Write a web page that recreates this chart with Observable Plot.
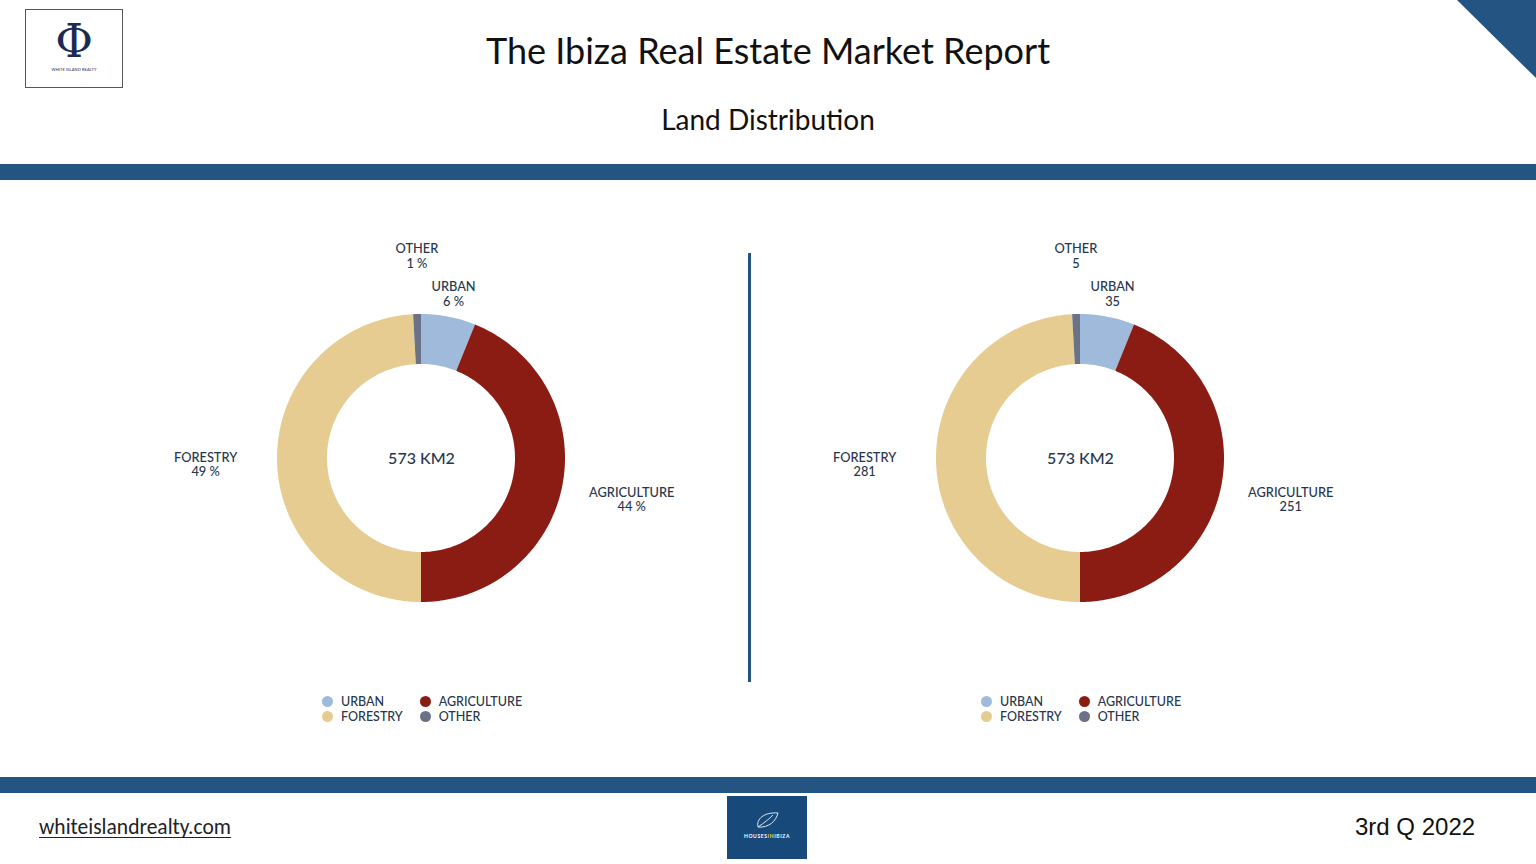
<!DOCTYPE html>
<html>
<head>
<meta charset="utf-8">
<script src="https://cdn.jsdelivr.net/npm/d3@7"></script>
<script src="https://cdn.jsdelivr.net/npm/@observablehq/plot@0.6"></script>
<style>
  html, body { margin: 0; padding: 0; background: #fff; }
  body { width: 1536px; height: 864px; position: relative; overflow: hidden; font-family: Lato, "Open Sans", sans-serif; }
  .abs { position: absolute; }
  .logo { left: 25px; top: 9px; width: 96px; height: 77px; border: 1px solid #555; background: #fff; }
  .logo .phi { position: absolute; left: 0; right: 0; top: 8px; height: 46px; text-align: center; font-family: "DejaVu Serif", serif; font-size: 46px; color: #1b2a52; line-height: 46px; }
  .logo .sub { position: absolute; left: 0; right: 0; top: 57px; height: 5px; text-align: center; font-size: 4px; line-height: 5px; color: #1b2a52; letter-spacing: 0.1px; }
  .title { left: 0; width: 1536px; top: 28px; text-align: center; font-size: 36px; color: #111; line-height: 44px; }
  .subtitle { left: 0; width: 1536px; top: 102px; text-align: center; font-size: 28px; color: #111; line-height: 34px; }
  .band { left: 0; width: 1536px; height: 16px; background: #235482; }
  .legend { display: grid; grid-template-columns: auto auto; column-gap: 17px; row-gap: 0px; font-size: 12.5px; color: #27364d; font-weight: 500; }
  .legend div { display: flex; align-items: center; height: 15px; line-height: 15px; }
  .legend span.sw { width: 11px; height: 11px; border-radius: 50%; margin-right: 8px; display: inline-block; }
  .foot-left { left: 39px; top: 814px; font-size: 21.5px; color: #222; text-decoration: underline; text-decoration-thickness: 1px; text-underline-offset: 3px; font-family: Carlito, Lato, sans-serif; }
  .foot-right { left: 1355px; top: 813px; font-size: 24px; color: #111; font-family: "Liberation Sans", Arial, sans-serif; }
  .hib { left: 727px; top: 796px; width: 80px; height: 63px; background: #17497a; }
  .hib .t { position: absolute; left: 0; right: 0; top: 37px; text-align: center; color: #fff; font-size: 5px; font-weight: bold; letter-spacing: 0.6px; }
  .hib .t b { color: #e8c94a; }
</style>
</head>
<body>
<script>
// ---- data ----
const categories = ["URBAN", "AGRICULTURE", "FORESTRY", "OTHER"];
const areaKm2 = [35, 251, 281, 5];
const sharePct = [6, 44, 49, 1];
const totalLabel = "573 KM2";
const palette = ["#9fbadb", "#8b1c14", "#e6cc90", "#6b7186"];

// ---- page chrome ----
const body = document.body;
function add(html) { body.insertAdjacentHTML("beforeend", html); }
add(`<div class="abs logo"><div class="phi">Φ</div><div class="sub">WHITE ISLAND REALTY</div></div>`);
add(`<svg class="abs" style="left:1457px;top:0" width="79" height="79"><polygon points="0,0 79,0 79,78" fill="#235482"/></svg>`);
add(`<div class="abs title">The Ibiza Real Estate Market Report</div>`);
add(`<div class="abs subtitle">Land Distribution</div>`);
add(`<div class="abs band" style="top:164px"></div>`);
add(`<div class="abs band" style="top:777px"></div>`);
add(`<div class="abs" style="left:748px;top:253px;width:3px;height:429px;background:#235482"></div>`);
add(`<div class="abs foot-left">whiteislandrealty.com</div>`);
add(`<div class="abs foot-right">3rd Q 2022</div>`);
add(`<div class="abs hib"><svg class="abs" style="left:28px;top:14px" width="26" height="22"><path d="M3,17 C1,9 9,2 23,3 C21,11 14,18 3,17 Z M3,17 C9,13 14,9 18,5" fill="none" stroke="#dfe7ef" stroke-width="1"/></svg><div class="t">HOUSES<b>IN</b>IBIZA</div></div>`);

// ---- donut geometry ----
const R_OUT = 144, R_IN = 94;
const W = 660, H = 460;
const pie = d3.pie().sort(null).value(d => d.area)(categories.map((c, i) => ({cat: c, area: areaKm2[i]})));

function arcPoints() {
  const pts = [];
  for (const s of pie) {
    const n = Math.max(2, Math.ceil((s.endAngle - s.startAngle) / (Math.PI / 180)));
    for (let i = 0; i <= n; i++) {
      const t = s.startAngle + (s.endAngle - s.startAngle) * i / n;
      pts.push({cat: s.data.cat,
        xi: R_IN * Math.sin(t), yi: R_IN * Math.cos(t),
        xo: R_OUT * Math.sin(t), yo: R_OUT * Math.cos(t)});
    }
  }
  return pts;
}

function labelPoints(values, fmt) {
  const labs = pie.map((s, i) => {
    const a = (s.startAngle + s.endAngle) / 2;
    const sn = Math.sin(a);
    const r = R_OUT + 22 + 50 * sn * sn;
    return {cat: s.data.cat, a, x: r * Math.sin(a), y: r * Math.cos(a),
      text: s.data.cat + "\n" + fmt(values[i])};
  });
  // simple collision avoidance: push later label outward
  for (let i = 0; i < labs.length; i++) {
    for (let j = 0; j < i; j++) {
      const A = labs[j], B = labs[i];
      if (Math.abs(A.y - B.y) < 36 && Math.abs(A.x - B.x) < 80) {
        B.y = A.y + (B.y >= 0 ? 38 : -38);
      }
    }
  }
  return labs;
}

function donut(values, fmt) {
  const pts = arcPoints();
  const labs = labelPoints(values, fmt);
  const textOpts = {x: "x", y: "y", text: "text", fontSize: 12.8, fontWeight: 500, lineHeight: 1.12, fill: "#27364d", textAnchor: "middle"};
  return Plot.plot({
    width: W, height: H, margin: 0,
    x: {domain: [-W / 2, W / 2], axis: null},
    y: {domain: [-H / 2, H / 2], axis: null},
    color: {domain: categories, range: palette},
    style: {background: "transparent", fontFamily: "Lato, sans-serif", overflow: "visible"},
    marks: [
      Plot.area(pts, {x1: "xi", y1: "yi", x2: "xo", y2: "yo", z: "cat", fill: "cat", curve: "linear"}),
      Plot.text(labs, textOpts),
      Plot.text([totalLabel], {frameAnchor: "middle", text: d => d, fontSize: 16, fontWeight: 500, fill: "#27364d"})
    ]
  });
}

function legend() {
  return `<div class="legend">` + categories.map((c, i) =>
    `<div><span class="sw" style="background:${palette[i]}"></span>${c}</div>`).join("") + `</div>`;
}

const centers = [421, 1080];
const charts = [donut(sharePct, v => v + " %"), donut(areaKm2, v => String(v))];
charts.forEach((c, k) => {
  const wrap = document.createElement("div");
  wrap.className = "abs";
  wrap.style.left = (centers[k] - W / 2) + "px";
  wrap.style.top = (458 - H / 2) + "px";
  wrap.appendChild(c);
  body.appendChild(wrap);
  add(`<div class="abs" style="left:${centers[k] - 99}px;top:694px">${legend()}</div>`);
});
</script>
</body>
</html>
